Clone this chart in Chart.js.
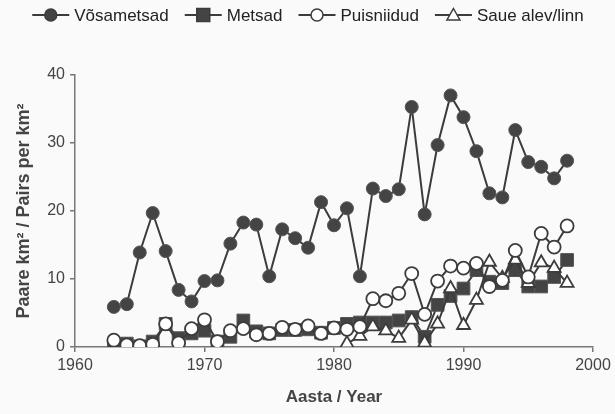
<!DOCTYPE html>
<html>
<head>
<meta charset="utf-8">
<script src="https://cdn.jsdelivr.net/npm/chart.js@4.4.1/dist/chart.umd.min.js"></script>
<style>
  html, body { margin: 0; padding: 0; background: #fafafa; }
</style>
</head>
<body>
<canvas id="myChart" width="615" height="414"></canvas>
<script>
// years 1963..1998
var years = [1963, 1964, 1965, 1966, 1967, 1968, 1969, 1970, 1971, 1972,
  1973, 1974, 1975, 1976, 1977, 1978, 1979, 1980, 1981, 1982,
  1983, 1984, 1985, 1986, 1987, 1988, 1989, 1990, 1991, 1992,
  1993, 1994, 1995, 1996, 1997, 1998];

var vosametsad = [5.9, 6.3, 13.9, 19.7, 14.1, 8.4, 6.7, 9.7, 9.8, 15.2,
  18.3, 18.0, 10.4, 17.3, 16.0, 14.6, 21.3, 17.9, 20.4, 10.4,
  23.3, 22.2, 23.2, 35.3, 19.5, 29.7, 37.0, 33.8, 28.8, 22.6,
  22.0, 31.9, 27.2, 26.5, 24.8, 27.4];

var metsad = [0.2, 0.5, 0.1, 0.8, 3.4, 1.3, 2.0, 2.4, 0.8, 1.5,
  3.9, 2.3, 2.0, 2.5, 2.5, 2.6, 2.1, 2.8, 3.4, 3.6,
  3.6, 3.6, 3.9, 4.4, 1.5, 6.2, 7.5, 8.6, 11.3, 9.6,
  9.4, 11.3, 8.9, 8.9, 10.3, 12.8];

var puisniidud = [1.0, 0.3, 0.2, 0.4, 3.4, 0.6, 2.7, 4.0, 0.8, 2.4,
  2.7, 1.8, 2.0, 2.9, 2.6, 3.1, 2.0, 2.8, 2.6, 3.0,
  7.1, 6.8, 7.9, 10.8, 4.8, 9.7, 11.9, 11.6, 12.3, 8.9,
  9.8, 14.2, 10.3, 16.7, 14.7, 17.8];

var saue = [null, null, null, null, null, null, null, null, null, null,
  null, null, null, null, null, null, null, null, 0.5, 1.6,
  3.0, 2.4, 1.3, 4.0, 0.6, 3.4, 8.6, 3.2, 6.9, 12.5,
  10.1, 12.8, 9.4, 12.4, 11.6, 9.4];

var xTicks = [1960, 1970, 1980, 1990, 2000];
var yTicks = [0, 10, 20, 30, 40];

var ink = "#3c3c3c";
var axisGray = "#777";
var fontFam = '"Liberation Sans", Arial, Helvetica, sans-serif';

function pts(vals) {
  return years.map(function (y, i) { return { x: y, y: vals[i] }; });
}

// legend with a short line through each marker
var lineLegend = {
  id: "lineLegend",
  afterDraw: function (chart) {
    var ctx = chart.ctx;
    ctx.save();
    ctx.font = "17px " + fontFam;
    var gap = 16, lineW = 37;
    var items = chart.data.datasets.map(function (ds) {
      return { ds: ds, w: lineW + 5 + ctx.measureText(ds.label).width };
    });
    var total = items.reduce(function (s, it) { return s + it.w; }, 0) + gap * (items.length - 1);
    var x = 308 - total / 2, y = 15;
    items.forEach(function (it) {
      var ds = it.ds;
      ctx.strokeStyle = ink;
      ctx.lineWidth = 2;
      ctx.beginPath();
      ctx.moveTo(x, y);
      ctx.lineTo(x + lineW, y);
      ctx.stroke();
      var cx = x + lineW / 2;
      ctx.fillStyle = ds.pointBackgroundColor;
      ctx.lineWidth = 1.5;
      ctx.beginPath();
      if (ds.pointStyle === "circle") {
        ctx.arc(cx, y, 6, 0, Math.PI * 2);
      } else if (ds.pointStyle === "rect") {
        ctx.rect(cx - 6.5, y - 6.5, 13, 13);
      } else {
        ctx.moveTo(cx, y - 6.5);
        ctx.lineTo(cx + 6.5, y + 5);
        ctx.lineTo(cx - 6.5, y + 5);
        ctx.closePath();
      }
      ctx.fill();
      ctx.stroke();
      ctx.fillStyle = "#222";
      ctx.textBaseline = "middle";
      ctx.textAlign = "left";
      ctx.fillText(ds.label, x + lineW + 5, y + 1);
      x += it.w + gap;
    });
    ctx.restore();
  }
};

document.addEventListener("DOMContentLoaded", function () {
  var ctx = document.getElementById("myChart").getContext("2d");
  var myChart = new Chart(ctx, {
    type: "line",
    data: {
      datasets: [
        {
          label: "Võsametsad",
          data: pts(vosametsad),
          borderColor: ink,
          borderWidth: 2,
          pointStyle: "circle",
          pointRadius: 6.5,
          pointBackgroundColor: "#444",
          pointBorderColor: "#555",
          pointBorderWidth: 1,
          order: 0
        },
        {
          label: "Metsad",
          data: pts(metsad),
          borderColor: ink,
          borderWidth: 2,
          pointStyle: "rect",
          pointRadius: 9,
          pointBackgroundColor: "#444",
          pointBorderColor: "#555",
          pointBorderWidth: 1,
          order: 3
        },
        {
          label: "Puisniidud",
          data: pts(puisniidud),
          borderColor: ink,
          borderWidth: 2,
          pointStyle: "circle",
          pointRadius: 6.5,
          pointBackgroundColor: "#ffffff",
          pointBorderColor: ink,
          pointBorderWidth: 1.8,
          order: 1
        },
        {
          label: "Saue alev/linn",
          data: pts(saue),
          borderColor: ink,
          borderWidth: 2,
          pointStyle: "triangle",
          pointRadius: 7.5,
          pointBackgroundColor: "#ffffff",
          pointBorderColor: ink,
          pointBorderWidth: 1.8,
          spanGaps: false,
          order: 2
        }
      ]
    },
    options: {
      responsive: false,
      animation: false,
      events: [],
      layout: { padding: { top: 75, right: 22, left: 0, bottom: 0 } },
      plugins: {
        legend: { display: false },
        tooltip: { enabled: false }
      },
      scales: {
        x: {
          type: "linear",
          min: 1960,
          max: 2000,
          afterBuildTicks: function (scale) {
            scale.ticks = xTicks.map(function (v) { return { value: v }; });
          },
          afterFit: function (scale) { scale.height = 67; },
          border: { color: axisGray, width: 1.5 },
          grid: { drawOnChartArea: false, color: axisGray, tickLength: 5, lineWidth: 1.5 },
          ticks: {
            color: "#444",
            font: { family: fontFam, size: 16 },
            padding: 4,
            maxRotation: 0,
            callback: function (v) { return String(v); }
          },
          title: {
            display: true,
            text: "Aasta / Year",
            color: "#444",
            font: { family: fontFam, size: 17, weight: "bold" },
            padding: { top: 0, bottom: 6 }
          }
        },
        y: {
          min: 0,
          max: 40,
          afterBuildTicks: function (scale) {
            scale.ticks = yTicks.map(function (v) { return { value: v }; });
          },
          afterFit: function (scale) { scale.width = 75; },
          border: { color: axisGray, width: 1.5 },
          grid: { drawOnChartArea: false, color: axisGray, tickLength: 5, lineWidth: 1.5 },
          ticks: {
            color: "#444",
            font: { family: fontFam, size: 16 },
            padding: 5
          },
          title: {
            display: true,
            text: "Paare km² / Pairs per km²",
            color: "#444",
            font: { family: fontFam, size: 18, weight: "bold" },
            padding: { top: 13, bottom: 0 }
          }
        }
      }
    },
    plugins: [lineLegend]
  });
});
</script>
</body>
</html>
